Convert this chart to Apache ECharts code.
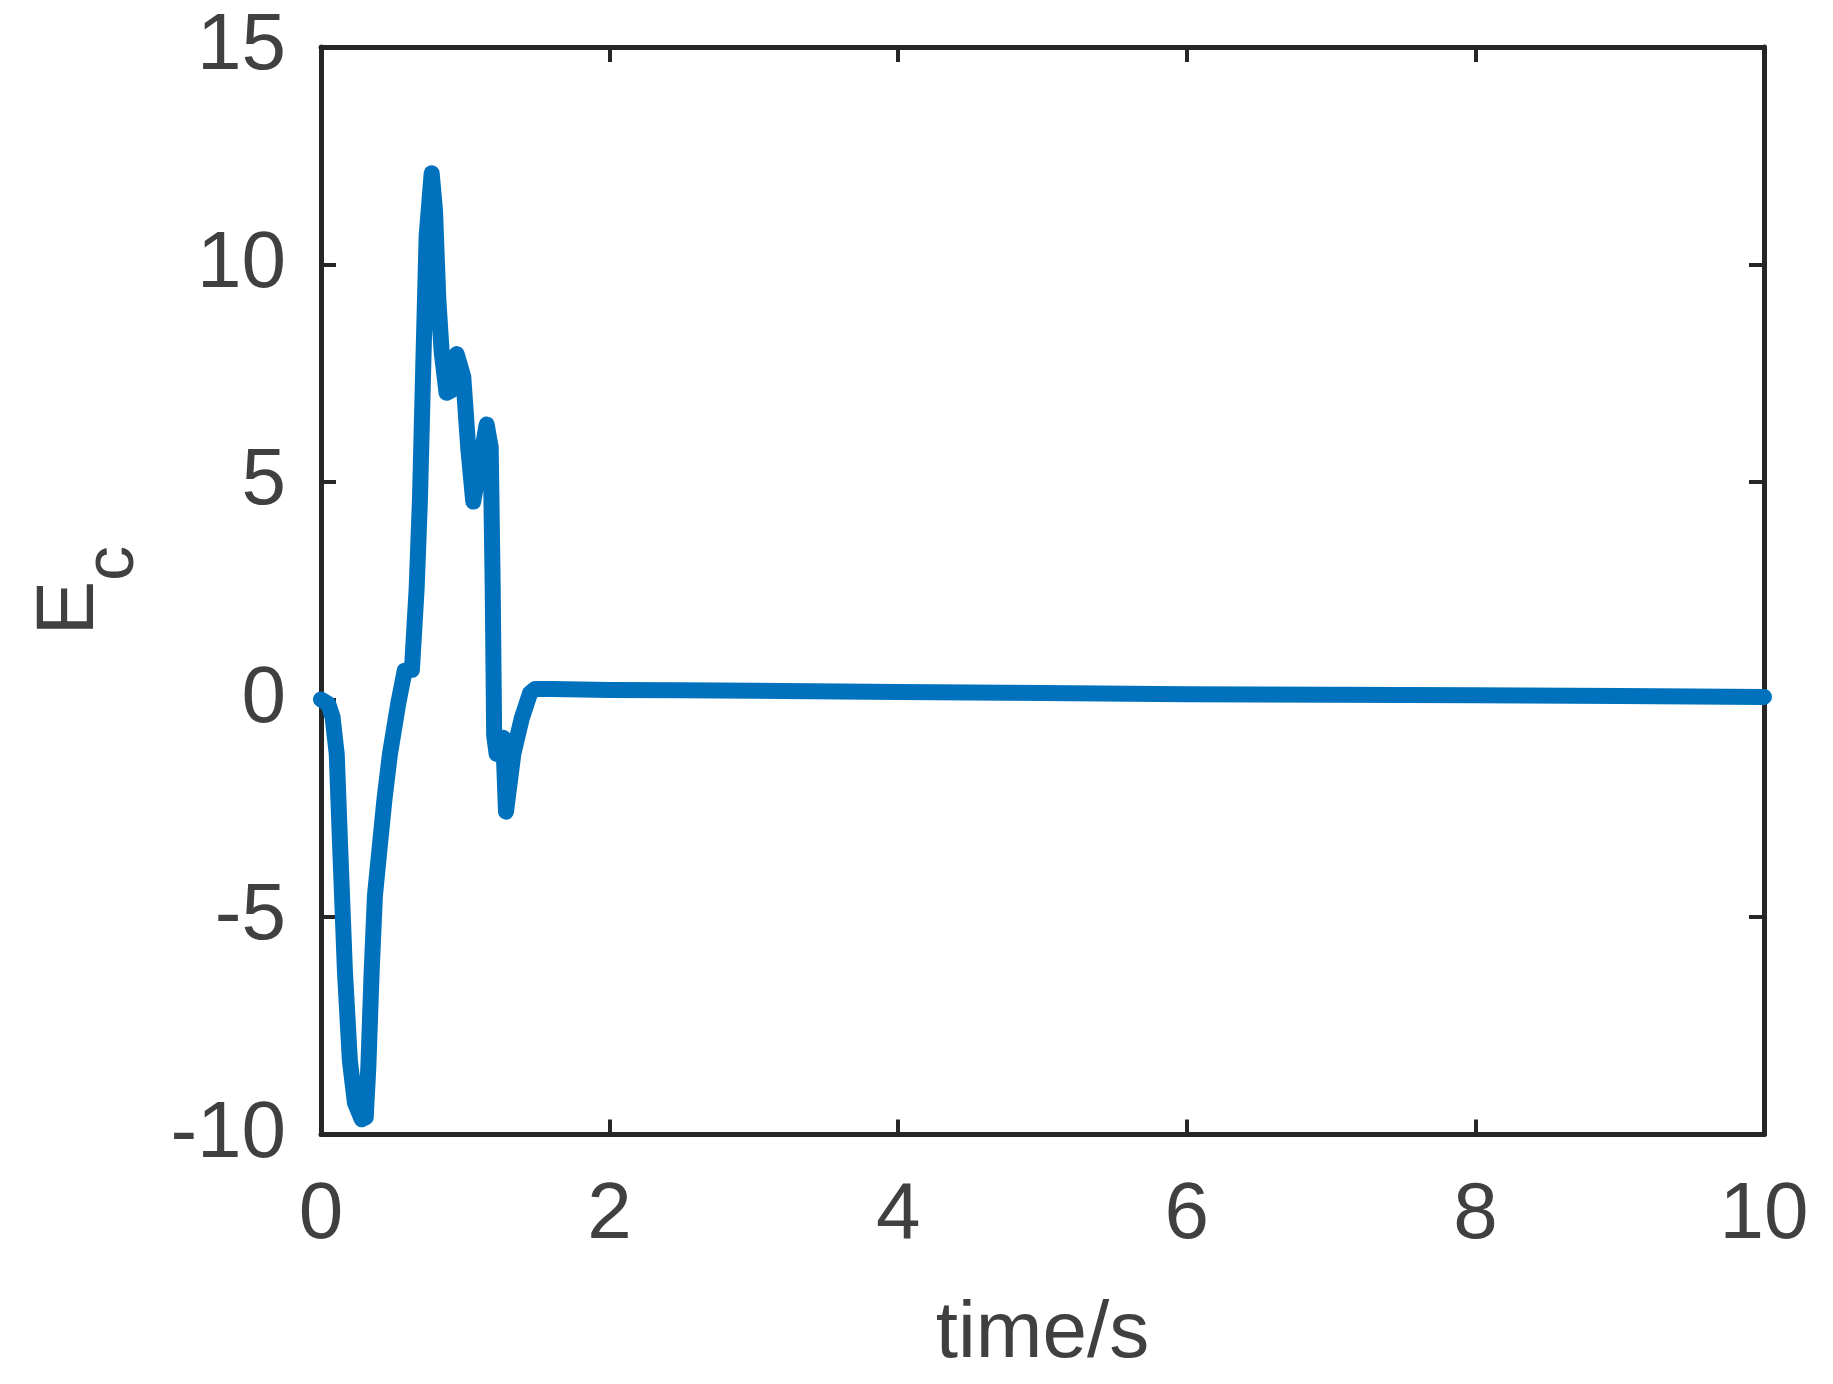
<!DOCTYPE html>
<html>
<head>
<meta charset="utf-8">
<script src="https://cdn.jsdelivr.net/npm/echarts@6/dist/echarts.min.js"></script>
<style>
html,body{margin:0;padding:0;background:#fff;}
#chart{width:1833px;height:1384px;}
</style>
</head>
<body>
<div id="chart"></div>
<script>
var timeValues = [0.0, 0.05, 0.08, 0.109, 0.132, 0.166, 0.2, 0.235, 0.282, 0.31, 0.328, 0.351, 0.374, 0.409, 0.44, 0.478, 0.536, 0.58, 0.63, 0.663, 0.686, 0.709, 0.732, 0.767, 0.79, 0.813, 0.836, 0.87, 0.9, 0.94, 0.986, 1.02, 1.055, 1.09, 1.148, 1.176, 1.19, 1.2, 1.217, 1.263, 1.282, 1.333, 1.39, 1.448, 1.483, 1.6, 2.0, 2.5, 3.0, 4.0, 5.0, 6.0, 7.0, 8.0, 9.0, 10.0];
var ecValues = [0.0, -0.1, -0.4, -1.25, -3.32, -6.26, -8.3, -9.27, -9.65, -9.6, -8.46, -6.26, -4.5, -3.32, -2.29, -1.25, -0.08, 0.66, 0.68, 2.56, 4.63, 7.7, 10.66, 12.1, 11.25, 9.2, 8.0, 7.05, 7.1, 7.94, 7.42, 5.8, 4.55, 5.21, 6.32, 5.8, 2.56, -0.82, -1.25, -0.88, -2.58, -1.25, -0.45, 0.14, 0.24, 0.24, 0.22, 0.21, 0.2, 0.17, 0.15, 0.12, 0.11, 0.1, 0.08, 0.06];
var xTicks = [0, 2, 4, 6, 8, 10];
var yTicks = [-10, -5, 0, 5, 10, 15];
var xLabel = 'time/s';

var FONT = 'Liberation Sans';
var TXT = '#404040';
var AX = '#262626';

var chart = echarts.init(document.getElementById('chart'), null, {renderer: 'canvas'});
var seriesData = timeValues.map(function (t, i) { return [t, ecValues[i]]; });

function baseX(pos, show) {
  return {
    type: 'value', position: pos, gridIndex: 0,
    min: xTicks[0], max: xTicks[xTicks.length - 1], interval: xTicks[1] - xTicks[0],
    axisLine: {show: true, onZero: false, lineStyle: {color: AX, width: 5}},
    axisTick: {show: true, inside: true, length: 15, lineStyle: {color: AX, width: 4}},
    axisLabel: {show: show, margin: 41, fontSize: 80, fontFamily: FONT, color: TXT},
    splitLine: {show: false}
  };
}
function baseY(pos, show) {
  return {
    type: 'value', position: pos, gridIndex: 0,
    min: yTicks[0], max: yTicks[yTicks.length - 1], interval: yTicks[1] - yTicks[0],
    axisLine: {show: true, onZero: false, lineStyle: {color: AX, width: 5}},
    axisTick: {show: true, inside: true, length: 15, lineStyle: {color: AX, width: 4}},
    axisLabel: {show: show, margin: 35, fontSize: 80, fontFamily: FONT, color: TXT},
    splitLine: {show: false}
  };
}

var xb = baseX('bottom', true);
xb.name = xLabel;
xb.nameLocation = 'middle';
xb.nameGap = 160;
xb.nameTextStyle = {fontSize: 80, fontFamily: FONT, color: TXT};

var yl = baseY('left', true);
yl.name = '{e|E}{c|c}';
yl.nameLocation = 'middle';
yl.nameRotate = 90;
yl.nameGap = 172;
yl.nameTextStyle = {
  fontFamily: FONT, color: TXT,
  rich: {
    e: {fontSize: 82, fontFamily: FONT, color: TXT, verticalAlign: 'top'},
    c: {fontSize: 70, fontFamily: FONT, color: TXT, verticalAlign: 'bottom', padding: [50, 0, 0, 0]}
  }
};

chart.setOption({
  animation: false,
  backgroundColor: '#ffffff',
  grid: {left: 321, right: 69, top: 47, bottom: 249.5, containLabel: false},
  xAxis: [xb, baseX('top', false)],
  yAxis: [yl, baseY('right', false)],
  series: [{
    type: 'line',
    xAxisIndex: 0, yAxisIndex: 0,
    data: seriesData,
    showSymbol: false,
    symbol: 'none',
    clip: false,
    lineStyle: {color: '#0072BD', width: 16, cap: 'round', join: 'round'},
    z: 1
  }]
});
</script>
</body>
</html>
